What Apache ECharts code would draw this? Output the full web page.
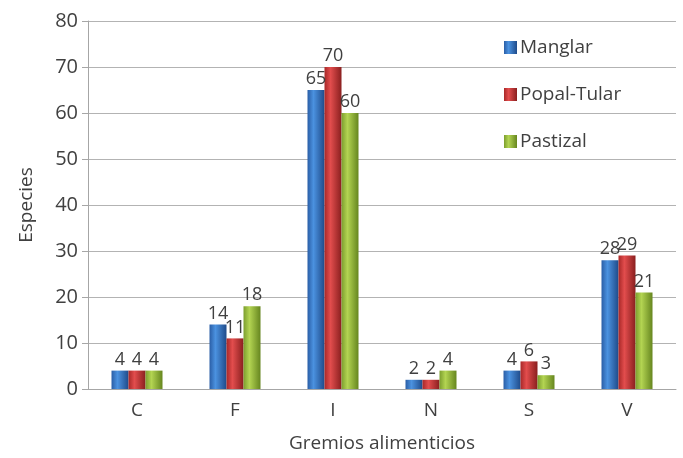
<!DOCTYPE html>
<html>
<head>
<meta charset="utf-8">
<script src="https://cdn.jsdelivr.net/npm/echarts@6/dist/echarts.min.js"></script>
<style>
  html, body { margin: 0; padding: 0; background: #fff; }
  #main { width: 683px; height: 458px; }
</style>
</head>
<body>
<div id="main"></div>
<script>
var categories = ["C", "F", "I", "N", "S", "V"];
var manglar = [4, 14, 65, 2, 4, 28];
var popalTular = [4, 11, 70, 2, 6, 29];
var pastizal = [4, 18, 60, 4, 3, 21];
var seriesNames = ["Manglar", "Popal-Tular", "Pastizal"];

(function () {
  var myChart = echarts.init(document.getElementById("main"));
  var font = "Open Sans";
  var textColor = "#404040";

  function shade(c1, c2, c3) {
    return new echarts.graphic.LinearGradient(0, 0, 1, 0, [
      { offset: 0, color: c1 },
      { offset: 0.35, color: c2 },
      { offset: 1, color: c3 }
    ]);
  }

  function makeSeries(name, data, colors) {
    return {
      name: name,
      type: "bar",
      data: data,
      barWidth: 17,
      barGap: "0%",
      itemStyle: {
        color: shade(colors[0], colors[1], colors[2])
      },
      label: {
        show: true,
        position: "top",
        distance: 2,
        fontFamily: font,
        fontSize: 18,
        color: textColor
      }
    };
  }

  var option = {
    animation: false,
    grid: { left: 88, right: 7, top: 21, bottom: 69, outerBoundsMode: "none", containLabel: false },
    color: ["#3a78c8", "#c93a3a", "#95b83e"],
    legend: {
      orient: "vertical",
      left: 499,
      top: 33,
      itemGap: 28,
      itemWidth: 13,
      itemHeight: 13,
      icon: "rect",
      data: seriesNames,
      textStyle: { fontFamily: font, fontSize: 19, color: textColor, padding: [0, 0, 0, -2] }
    },
    xAxis: {
      type: "category",
      data: categories,
      name: "Gremios alimenticios",
      nameLocation: "middle",
      nameGap: 45,
      nameTextStyle: { fontFamily: font, fontSize: 19, color: textColor },
      axisLine: { lineStyle: { color: "#a6a6a6" } },
      axisTick: { show: false },
      axisLabel: { fontFamily: font, fontSize: 19, color: textColor, margin: 12 }
    },
    yAxis: {
      type: "value",
      min: 0,
      max: 80,
      interval: 10,
      name: "Especies",
      nameLocation: "middle",
      nameGap: 52,
      nameTextStyle: { fontFamily: font, fontSize: 19, color: textColor },
      axisLine: { show: true, lineStyle: { color: "#a6a6a6" } },
      axisTick: { show: true, length: 6, lineStyle: { color: "#a6a6a6" } },
      axisLabel: { fontFamily: font, fontSize: 20, color: textColor, margin: 10 },
      splitLine: { lineStyle: { color: "#b3b3b3" } }
    },
    series: [
      makeSeries(seriesNames[0], manglar, ["#2a5ea6", "#4b92e0", "#1f4b8a"]),
      makeSeries(seriesNames[1], popalTular, ["#a82828", "#e24d4d", "#8a1f1f"]),
      makeSeries(seriesNames[2], pastizal, ["#7c9e2e", "#b3d452", "#66861f"])
    ]
  };
  myChart.setOption(option);
  window.addEventListener("resize", function () {
    myChart.resize();
  });
})();
</script>
</body>
</html>
